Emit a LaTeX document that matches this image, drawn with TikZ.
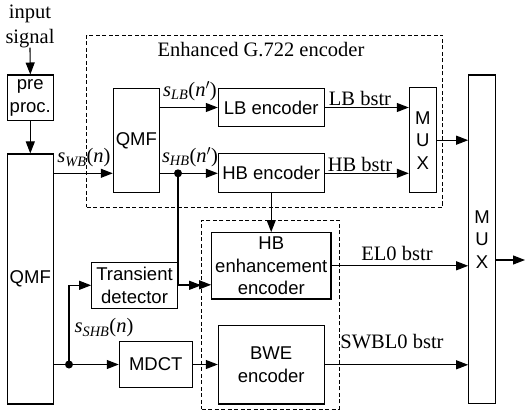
\documentclass[tikz,border=0pt]{standalone}
\usepackage{fontspec}
\setmainfont{Liberation Serif}
\setsansfont{Liberation Sans}
\usetikzlibrary{arrows.meta}

\begin{document}
\begin{tikzpicture}[x=1pt,y=-1pt,
    blk/.style={draw,line width=1.1pt,inner sep=0pt,align=center,
      font=\sffamily\fontsize{18.5}{22.5}\selectfont},
    grp/.style={draw,line width=0.9pt,dash pattern=on 4pt off 2.5pt,inner sep=0pt},
    lbl/.style={font=\fontsize{20.5}{25}\selectfont,inner sep=0pt,align=center},
    sig/.style={line width=1.1pt,-{Triangle[length=12pt,width=9pt]}},
    wire/.style={line width=1.1pt}]
  \useasboundingbox (0,0) rectangle (526,411);

  % dashed groups
  \node[grp,minimum width=356pt,minimum height=172pt] (enh) at (264.7,121) {};
  \node[grp,minimum width=137.3pt,minimum height=189pt] (bwegrp) at (270.3,314.5) {};
  \node[lbl] (enhname) at (261,50) {Enhanced G.722 encoder};

  % blocks
  \node[lbl] (insig) at (30,26) {input\\signal};
  \node[blk,minimum width=46pt,minimum height=45.7pt] (pre) at (30.3,97.9) {pre\\proc.};
  \node[blk,minimum width=46pt,minimum height=250pt] (qmfbig) at (30.3,279) {QMF};
  \node[blk,minimum width=46pt,minimum height=104.4pt] (qmf) at (136.3,140.5) {QMF};
  \node[blk,minimum width=105.7pt,minimum height=38.4pt] (lbenc) at (271.2,107.5) {LB encoder};
  \node[blk,minimum width=105.7pt,minimum height=38.7pt] (hbenc) at (271.2,173.3) {HB encoder};
  \node[blk,minimum width=26.7pt,minimum height=105pt] (mux) at (422.7,140.2) {M\\U\\X};
  \node[blk,minimum width=26.6pt,minimum height=328.3pt] (muxbig) at (482,239.2) {M\\U\\X};
  \node[blk,minimum width=119.3pt,minimum height=66.3pt] (hbenh) at (271.3,265.8) {HB\\enhancement\\encoder};
  \node[blk,minimum width=85.6pt,minimum height=46pt] (trans) at (134.5,285.3) {Transient\\detector};
  \node[blk,minimum width=73pt,minimum height=45.6pt] (mdct) at (155.8,364.5) {MDCT};
  \node[blk,minimum width=105.7pt,minimum height=78.3pt] (bwe) at (271.2,364.8) {BWE\\encoder};

  % split points
  \coordinate (hbsplit) at (178,173.3);
  \coordinate (shbsplit) at (69,364.5);
  \coordinate (out) at (525,260);
  \fill (hbsplit) circle (4pt);
  \fill (shbsplit) circle (4pt);

  % connectors
  \draw[sig] (insig.south) -- (pre.north);
  \draw[sig] (pre.south) -- (qmfbig.north);
  \draw[sig] (qmfbig.east |- hbenc.west) -- (qmf.west |- hbenc.west);
  \draw[sig] (qmf.east |- lbenc.west) -- (lbenc.west);
  \draw[sig] (qmf.east |- hbenc.west) -- (hbenc.west);
  \draw[sig] (lbenc.east) -- (mux.west |- lbenc.east);
  \draw[sig] (hbenc.east) -- (mux.west |- hbenc.east);
  \draw[sig] (mux.east) -- (muxbig.west |- mux.east);
  \draw[sig] (hbenc.south) -- (hbenc.south |- hbenh.north);
  \draw[sig] (hbsplit) |- ([yshift=-19pt]hbenh.west);
  \draw[sig] (trans.east) -- (bwegrp.west |- trans.east);
  \draw[wire] (qmfbig.east |- mdct.west) -- (shbsplit);
  \draw[sig] (shbsplit) |- (trans.west);
  \draw[sig] (shbsplit) -- (mdct.west);
  \draw[sig] (mdct.east) -- (bwe.west |- mdct.east);
  \draw[sig] (hbenh.east) -- (muxbig.west |- hbenh.east);
  \draw[sig] (bwe.east) -- (muxbig.west |- bwe.east);
  \draw[sig] (muxbig.east |- out) -- (out);

  % signal labels
  \node[lbl] (swb) at (84,158) {\textit{s}\textsubscript{\textit{WB}}(\textit{n})};
  \node[lbl] (slb) at (190,91) {\textit{s}\textsubscript{\textit{LB}}(\textit{n}$'$)};
  \node[lbl] (shb) at (190,157) {\textit{s}\textsubscript{\textit{HB}}(\textit{n}$'$)};
  \node[lbl] (sshb) at (104,328) {\textit{s}\textsubscript{\textit{SHB}}(\textit{n})};
  \node[lbl] (lbbs) at (360,98) {LB bstr};
  \node[lbl] (hbbs) at (360,164) {HB bstr};
  \node[lbl] (el0) at (397,253) {EL0 bstr};
  \node[lbl] (swbl0) at (392,342) {SWBL0 bstr};
\end{tikzpicture}
\end{document}
